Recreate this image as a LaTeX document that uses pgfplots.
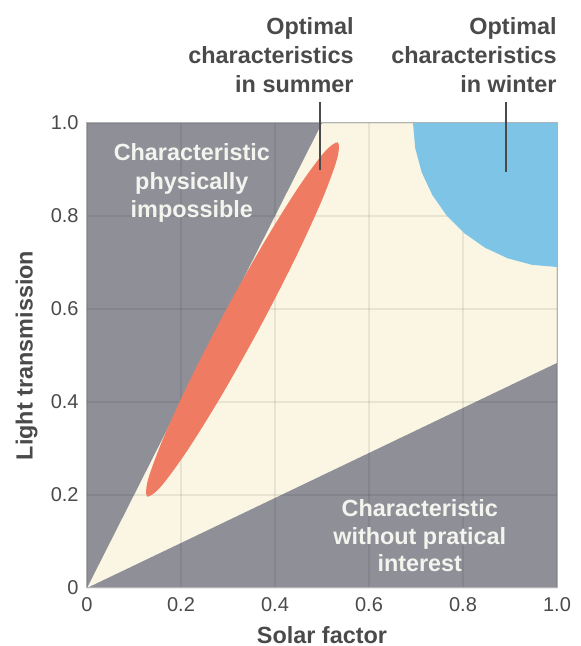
\documentclass[border=0pt]{standalone}
\usepackage{fontspec}
\setmainfont{Liberation Sans}
\usepackage{pgfplots}
\pgfplotsset{compat=1.18}

\definecolor{zonegray}{HTML}{8F9097}
\definecolor{cream}{HTML}{FAF6E3}
\definecolor{summerred}{HTML}{EF7B62}
\definecolor{winterblue}{HTML}{7EC4E6}
\definecolor{labelgray}{HTML}{4A4A4A}
\definecolor{innertext}{HTML}{F4F4EF}

\begin{document}
\begin{tikzpicture}
\begin{axis}[
  set layers,
  scale only axis,
  width=235pt, height=232.5pt,
  xmin=0, xmax=1, ymin=0, ymax=1,
  clip=false,
  xtick={0,0.2,0.4,0.6,0.8,1}, xticklabels={0,0.2,0.4,0.6,0.8,1.0},
  ytick={0,0.2,0.4,0.6,0.8,1}, yticklabels={0,0.2,0.4,0.6,0.8,1.0},
  major tick length=0pt,
  grid=major,
  major grid style={line width=0.8pt, black, opacity=0.07},
  axis line style={draw=black!30, line width=0.5pt},
  /pgf/number format/assume math mode=true,
  tick label style={font=\fontsize{10}{12}\selectfont, text=labelgray, inner sep=0pt},
  xticklabel style={anchor=north, yshift=-4.5pt},
  yticklabel style={anchor=east, xshift=-4pt},
  xlabel={Solar factor},
  ylabel={Light transmission},
  label style={font=\bfseries\fontsize{11.7}{14}\selectfont, text=labelgray, inner sep=0pt},
  xlabel style={at={(axis description cs:0.5,0)}, anchor=base, yshift=-27.5pt},
  ylabel style={at={(axis description cs:-0.1043,0.5)}, anchor=south},
]
% zones
\addplot[fill=cream, draw=none, on layer=axis background]
  coordinates {(0,0) (1,0.484) (1,1) (0.5,1)} -- cycle;
\addplot[fill=zonegray, draw=none, on layer=axis background]
  coordinates {(0,0) (0.5,1) (0,1)} -- cycle;
\addplot[fill=zonegray, draw=none, on layer=axis background]
  coordinates {(0,0) (1,0) (1,0.484)} -- cycle;

% optimal in summer
\addplot[fill=summerred, draw=none, smooth cycle] coordinates {
  (0.5336,0.9582) (0.5318,0.9219) (0.4994,0.8330) (0.4414,0.7054)
  (0.3665,0.5580) (0.2861,0.4137) (0.2127,0.2945) (0.1572,0.2181)
  (0.1281,0.1966) (0.1299,0.2330) (0.1623,0.3219) (0.2203,0.4495)
  (0.2952,0.5968) (0.3756,0.7412) (0.4490,0.8604) (0.5045,0.9367)};

% optimal in winter
\addplot[fill=winterblue, draw=none] coordinates {
  (0.6936,1.0000) (0.6983,0.9462) (0.7121,0.8941) (0.7347,0.8451)
  (0.7653,0.8009) (0.8030,0.7628) (0.8468,0.7318) (0.8952,0.7090)
  (0.9468,0.6950) (1.0000,0.6903) (1,1)} -- cycle;

% pointer lines
\addplot[draw=labelgray, line width=1pt] coordinates {(0.496,1.045) (0.496,0.899)};
\addplot[draw=labelgray, line width=1pt] coordinates {(0.891,1.045) (0.891,0.895)};

\node[align=right, anchor=south east, inner sep=0pt, text=labelgray,
  font=\bfseries\fontsize{11.7}{14.5}\selectfont]
  at (axis cs:0.568,1.065) {Optimal\\characteristics\\in summer};
\node[align=right, anchor=south east, inner sep=0pt, text=labelgray,
  font=\bfseries\fontsize{11.7}{14.5}\selectfont]
  at (axis cs:1.0,1.065) {Optimal\\characteristics\\in winter};

\node[align=center, inner sep=0pt, text=innertext,
  font=\bfseries\fontsize{11.7}{14.25}\selectfont]
  at (axis cs:0.223,0.870) {Characteristic\\physically\\impossible};
\node[align=center, inner sep=0pt, text=innertext,
  font=\bfseries\fontsize{11.7}{13.75}\selectfont]
  at (axis cs:0.708,0.112) {Characteristic\\without pratical\\interest};
\end{axis}
\pgfresetboundingbox
\path[use as bounding box] ([xshift=-43.5pt,yshift=-29pt]current axis.south west)
  rectangle ([xshift=11.5pt,yshift=61.5pt]current axis.north east);
\end{tikzpicture}
\end{document}
